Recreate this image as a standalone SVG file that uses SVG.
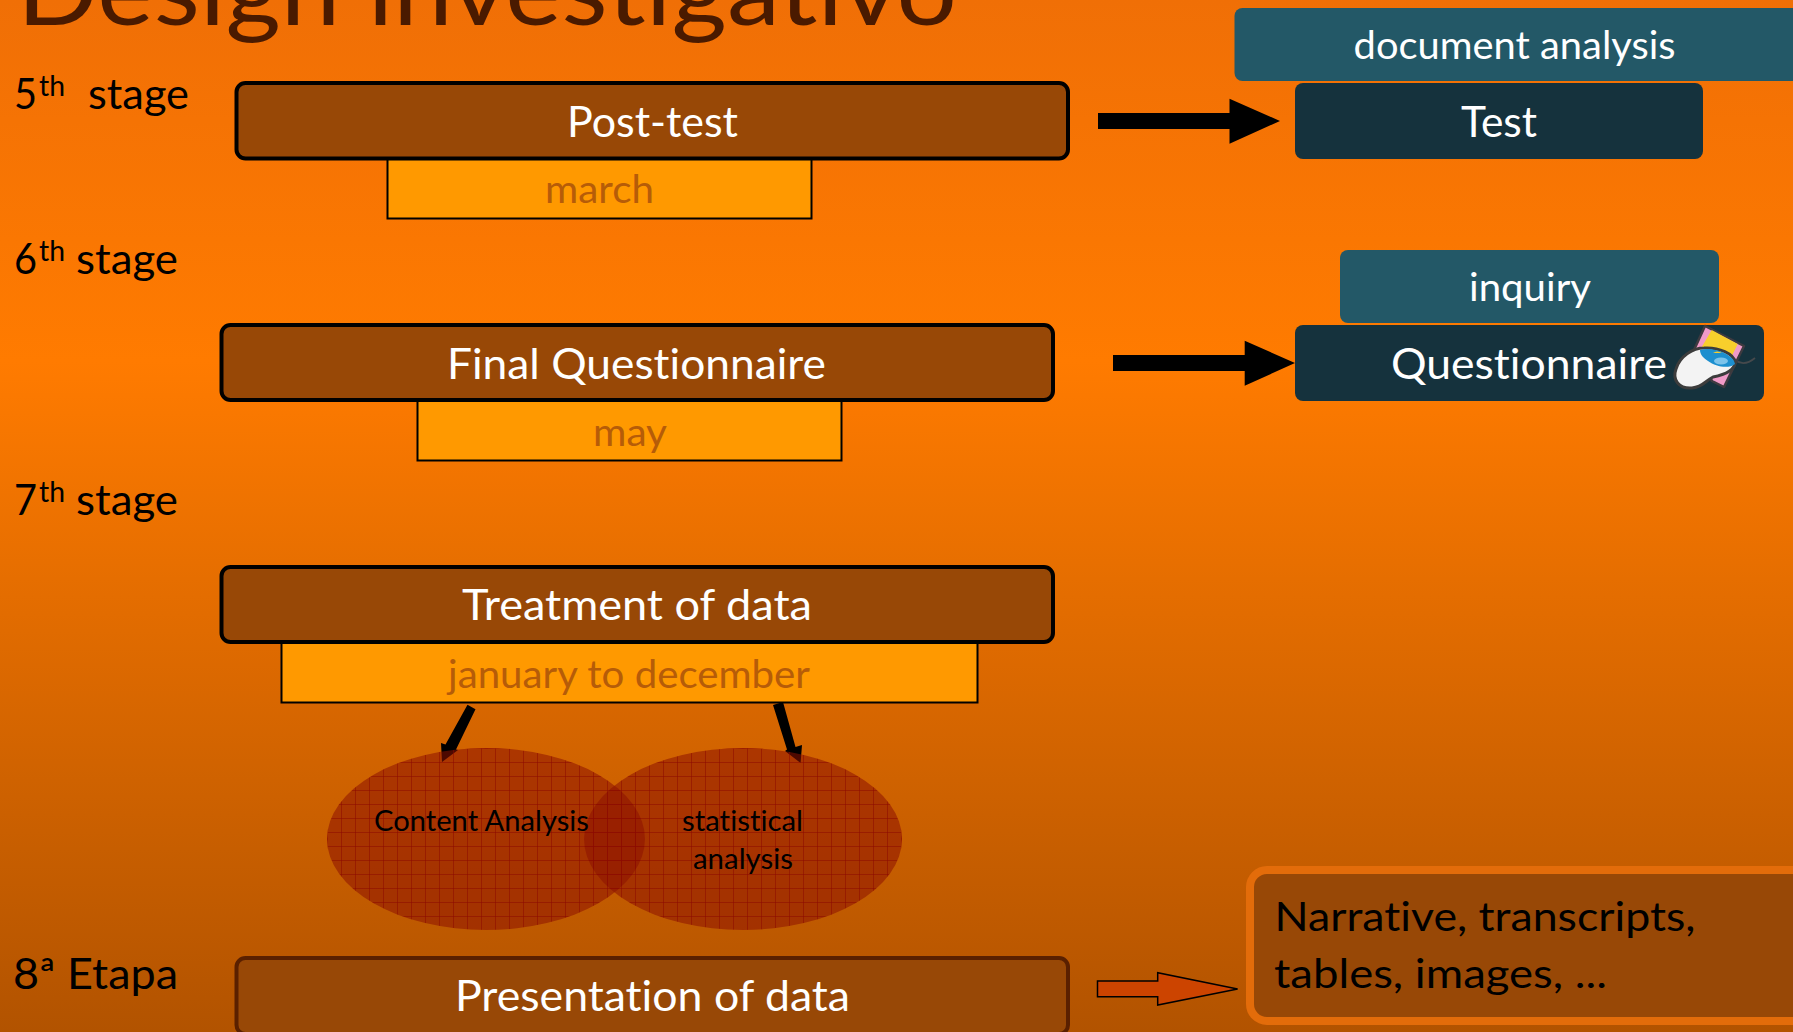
<svg xmlns="http://www.w3.org/2000/svg" width="1793" height="1032" viewBox="0 0 1793 1032">
<style>
text{font-family:"Lato","Carlito","Liberation Sans",sans-serif;font-variant-ligatures:none}
.box{fill:#984806;stroke:#000;stroke-width:4}
.date{fill:#ff9900;stroke:#000;stroke-width:2}
.teal{fill:#235867}
.navy{fill:#15323d}
.w{fill:#fff;font-size:42px}
.w2{fill:#fff;font-size:38px}
.d{fill:#b65c08;font-size:38px}
.k{fill:#000;font-size:43px}
.s{fill:#000;font-size:28px}
.e{fill:#000;font-size:29px}
.n{fill:#000;font-size:40px}
.arrow{fill:#000}
.venn{fill:url(#grid)}
</style>
<defs>
<linearGradient id="bg" x1="0" y1="0" x2="0" y2="1">
<stop offset="0" stop-color="#f06f06"/>
<stop offset="0.35" stop-color="#ff7b00"/>
<stop offset="1" stop-color="#b25300"/>
</linearGradient>
<pattern id="grid" patternUnits="userSpaceOnUse" x="327" y="748" width="14" height="14">
<rect width="14" height="14" fill="#8c1000" fill-opacity="0.55"/>
<path d="M0 .5H14M.5 0V14" stroke="#8c0800" stroke-opacity="0.5" stroke-width="1" fill="none"/>
</pattern>
</defs>
<rect id="background" width="1793" height="1032" fill="url(#bg)"/>
<text id="title" x="17" y="25" font-size="96" fill="#4a1a00" textLength="940" lengthAdjust="spacingAndGlyphs">Design investigativo</text>

<g id="connectors">
<path class="arrow" d="M1098 113H1229.5V98.7L1280 121L1229.5 143.7V129H1098Z"/>
<path class="arrow" d="M1113 355H1244.7V340.7L1295 363L1244.7 385.7V371H1113Z"/>
<path class="arrow" d="M467.5 704.8L475.5 709.2L456 749.5L458 750L442 762L441 743L445.5 744.5Z"/>
<path class="arrow" d="M773 705L783 702L795.5 747L802 745L800.6 763L785 751L787 749.5Z"/>
<path d="M1097.5 981H1157.7V972.7L1237.6 989L1157.7 1005V996.7H1097.5Z" fill="#cc4400" stroke="#000" stroke-width="1.5"/>
</g>

<g id="stage5"><text class="k" x="14" y="109" textLength="23" lengthAdjust="spacingAndGlyphs">5</text><text class="s" x="39" y="96" textLength="26" lengthAdjust="spacingAndGlyphs">th</text><text class="k" x="88" y="109" textLength="101" lengthAdjust="spacingAndGlyphs">stage</text></g>
<g id="stage6"><text class="k" x="14" y="274" textLength="23" lengthAdjust="spacingAndGlyphs">6</text><text class="s" x="39" y="261" textLength="26" lengthAdjust="spacingAndGlyphs">th</text><text class="k" x="76" y="274" textLength="102" lengthAdjust="spacingAndGlyphs">stage</text></g>
<g id="stage7"><text class="k" x="14" y="515" textLength="23" lengthAdjust="spacingAndGlyphs">7</text><text class="s" x="39" y="502" textLength="26" lengthAdjust="spacingAndGlyphs">th</text><text class="k" x="76" y="515" textLength="102" lengthAdjust="spacingAndGlyphs">stage</text></g>
<g id="stage8"><text class="k" x="13" y="989" textLength="165" lengthAdjust="spacingAndGlyphs">8ª Etapa</text></g>

<g id="march"><rect class="date" x="387.5" y="156" width="424" height="62.5"/><text class="d" x="545" y="203" textLength="109" lengthAdjust="spacingAndGlyphs">march</text></g>
<g id="post-test"><rect class="box" x="236.5" y="83" width="831.5" height="75.5" rx="9"/><text class="w" x="567" y="137" textLength="171" lengthAdjust="spacingAndGlyphs">Post-test</text></g>

<g id="may"><rect class="date" x="417.5" y="398" width="424" height="62.5"/><text class="d" x="593" y="446" textLength="74" lengthAdjust="spacingAndGlyphs">may</text></g>
<g id="final-questionnaire"><rect class="box" x="221.5" y="325" width="831.5" height="75" rx="9"/><text class="w" x="447" y="379" textLength="379" lengthAdjust="spacingAndGlyphs">Final Questionnaire</text></g>

<g id="january"><rect class="date" x="281.5" y="640" width="696" height="62.5"/><text class="d" x="448" y="688" textLength="362" lengthAdjust="spacingAndGlyphs">january to december</text></g>
<g id="treatment"><rect class="box" x="221.5" y="567" width="831.5" height="75" rx="9"/><text class="w" x="462" y="620" textLength="350" lengthAdjust="spacingAndGlyphs">Treatment of data</text></g>

<g id="content-analysis"><ellipse class="venn" cx="486" cy="839" rx="159" ry="91"/></g>
<g id="statistical-analysis"><ellipse class="venn" cx="743" cy="839" rx="159" ry="91"/></g>
<text class="e" x="374" y="831" textLength="215" lengthAdjust="spacingAndGlyphs">Content Analysis</text>
<text class="e" x="682" y="831" textLength="121" lengthAdjust="spacingAndGlyphs">statistical</text>
<text class="e" x="693" y="869" textLength="100" lengthAdjust="spacingAndGlyphs">analysis</text>

<g id="presentation"><rect style="stroke:#5a2000" class="box" x="236.5" y="958" width="831.5" height="76" rx="9"/><text class="w" x="455" y="1011" textLength="395" lengthAdjust="spacingAndGlyphs">Presentation of data</text></g>

<g id="document-analysis"><rect class="teal" x="1234.5" y="8" width="570" height="73" rx="8"/><text class="w2" x="1353.6" y="59" textLength="322" lengthAdjust="spacingAndGlyphs">document analysis</text></g>
<g id="test"><rect class="navy" x="1295" y="83" width="408" height="76" rx="8"/><text class="w" x="1461" y="137" textLength="76" lengthAdjust="spacingAndGlyphs">Test</text></g>
<g id="inquiry"><rect class="teal" x="1340" y="250" width="379" height="73" rx="8"/><text class="w2" x="1469" y="301" textLength="122" lengthAdjust="spacingAndGlyphs">inquiry</text></g>
<g id="questionnaire"><rect class="navy" x="1295" y="325" width="469" height="76" rx="8"/><text class="w" x="1391" y="379" textLength="276" lengthAdjust="spacingAndGlyphs" fill="#f2f2f2">Questionnaire</text>
<g id="mouse-icon" stroke-linejoin="round">
<path d="M1735 360q9 7 20-2" fill="none" stroke="#46494c" stroke-width="1.8"/>
<path d="M1705 326L1744 346L1724 387L1712 381L1694 350Z" fill="#f09ac8" stroke="#3e3a40" stroke-width="2.5"/>
<path d="M1711.7 330L1737.7 344L1728 364L1700 350Z" fill="#f8cf2c"/>
<path d="M1676 369C1680 356 1693 348 1704 348C1719 347 1734 354 1735 362C1735 371 1723 375 1713 377C1705 381 1703 387 1692 388C1679 389 1672 380 1676 369Z" fill="#f3f3f3" stroke="#3c3c3c" stroke-width="3"/>
<path d="M1700 350C1712 346 1734 354 1735 364C1729 369 1716 367 1708 361C1703 358 1700 354 1700 350Z" fill="#1d8fcf"/>
<ellipse cx="1721" cy="361" rx="7" ry="3.5" fill="#7cc3ea"/>
<path d="M1713 353q4-3 9 0z" fill="#f8cf2c"/>
</g></g>

<g id="outputs"><rect x="1250" y="870" width="600" height="151" rx="17" fill="#984806" stroke="#e36c0a" stroke-width="8"/>
<text class="n" x="1274.5" y="931" textLength="421" lengthAdjust="spacingAndGlyphs">Narrative, transcripts,</text>
<text class="n" x="1274" y="988" textLength="333" lengthAdjust="spacingAndGlyphs">tables, images, ...</text></g>
</svg>
